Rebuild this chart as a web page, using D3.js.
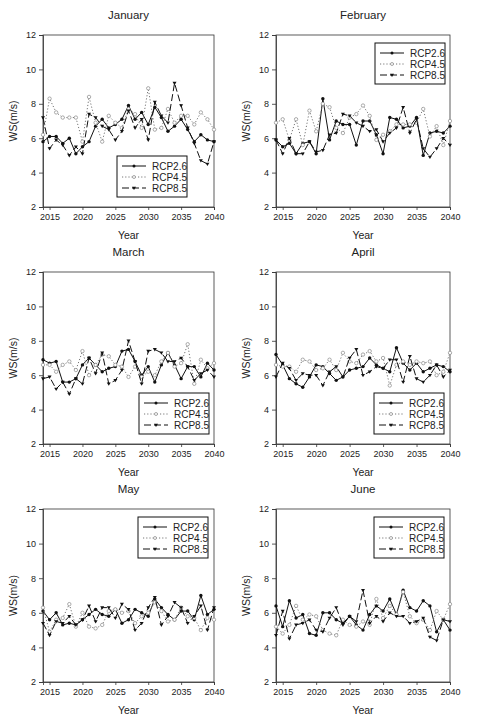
<!DOCTYPE html>
<html><head><meta charset="utf-8">
<script src="https://cdn.jsdelivr.net/npm/d3@7"></script>
<style>body{margin:0;background:#fff}svg{display:block}text{font-family:"Liberation Sans",Arial,sans-serif;fill:#222}</style>
</head><body>
<script>
const years = d3.range(2014, 2041);
const seriesNames = ["RCP2.6", "RCP4.5", "RCP8.5"];
const months = ["January", "February", "March", "April", "May", "June"];
const yTicks = [2, 4, 6, 8, 10, 12];
const xTicks = [2015, 2020, 2025, 2030, 2035, 2040];

const janRCP26 = [5.8,6.1,6.1,5.7,6.0,5.1,5.5,5.8,6.7,7.1,6.6,6.8,7.1,7.9,7.1,7.5,6.8,7.8,7.2,6.4,6.7,7.1,6.5,5.8,6.2,5.9,5.8];
const janRCP45 = [6.2,8.3,7.5,7.2,7.2,7.2,5.8,8.4,6.9,5.8,7.3,6.9,6.6,7.7,7.4,6.6,8.9,6.5,6.6,7.7,6.9,7.3,7.3,6.8,7.5,7.1,6.5];
const janRCP85 = [7.2,5.4,5.9,5.6,5.0,5.5,5.1,7.4,7.2,6.7,6.5,5.9,6.4,7.6,6.6,7.1,5.9,8.1,7.3,6.9,9.2,7.9,6.6,5.7,4.7,4.5,5.8];

const febRCP26 = [5.9,5.5,5.7,5.1,5.7,5.8,5.1,8.3,5.9,7.0,6.8,6.8,5.6,7.0,7.0,6.2,5.1,7.2,7.1,6.6,6.7,7.2,5.0,6.3,6.4,6.3,6.7];
const febRCP45 = [6.9,7.1,5.9,7.1,5.6,7.6,6.4,8.0,7.8,6.6,6.3,7.2,7.4,7.9,7.3,5.9,6.2,6.4,6.8,6.8,6.8,6.9,7.7,6.1,6.7,5.6,7.0];
const febRCP85 = [5.9,5.1,6.0,5.1,5.1,5.8,5.2,5.3,6.2,6.3,7.4,7.3,6.9,6.7,6.4,6.5,5.8,6.3,6.6,7.8,6.3,7.1,5.4,4.9,5.4,6.0,5.6];

const marRCP26 = [6.9,6.7,6.8,5.6,5.6,5.8,6.6,7.0,6.6,6.2,6.4,6.5,7.4,7.5,6.8,6.0,6.5,5.6,6.6,7.3,6.6,5.8,6.5,6.5,5.9,6.7,6.3];
const marRCP45 = [6.6,6.6,6.2,6.6,6.8,6.3,7.4,6.0,6.6,7.2,7.1,6.6,6.5,5.9,6.5,5.9,6.2,6.0,6.8,7.3,6.5,6.7,7.8,5.5,6.9,6.4,6.7];
const marRCP85 = [5.8,5.9,5.2,5.6,4.9,5.8,5.5,7.0,6.1,7.3,5.5,5.7,6.3,8.0,6.8,5.5,7.4,7.5,7.3,6.8,6.8,7.0,6.5,5.7,6.1,6.3,5.9];

const aprRCP26 = [7.2,6.6,5.8,5.5,5.3,5.9,6.6,6.5,6.1,5.7,5.9,6.3,6.4,6.5,7.0,6.6,6.4,6.2,7.6,6.7,6.3,6.7,6.2,6.4,6.6,6.5,6.2];
const aprRCP45 = [6.6,6.5,6.5,6.2,6.9,6.8,6.3,6.4,6.9,6.3,7.3,6.8,6.7,7.2,7.4,6.8,7.0,5.4,6.6,6.8,6.6,6.8,6.7,6.8,6.0,6.2,7.3];
const aprRCP85 = [5.9,6.7,6.4,5.7,6.1,6.0,6.0,5.4,6.2,6.5,5.9,7.0,7.5,6.0,6.2,6.5,6.4,6.9,6.9,5.6,7.1,5.8,5.6,6.0,6.6,5.9,6.3];

const mayRCP26 = [6.1,5.6,6.0,5.3,5.4,5.3,5.6,5.9,6.2,5.9,5.8,6.2,5.4,5.6,6.2,6.0,5.8,6.8,6.3,5.9,5.6,6.1,6.1,5.6,7.0,5.9,6.2];
const mayRCP45 = [6.3,4.9,5.6,5.7,6.5,5.2,6.0,5.2,5.1,5.3,6.1,6.2,6.0,6.1,5.4,5.8,6.0,6.6,6.1,5.5,5.6,6.3,5.8,5.7,5.0,5.7,5.6];
const mayRCP85 = [5.4,4.7,5.5,5.4,5.8,5.3,5.6,6.4,5.5,6.3,6.3,5.7,6.5,6.2,5.0,5.4,6.3,6.9,5.3,5.8,6.6,6.3,5.4,5.8,6.4,5.0,6.3];

const junRCP26 = [6.4,5.2,6.7,5.7,5.9,4.8,4.7,6.0,6.0,5.6,5.4,5.8,5.3,5.0,5.9,6.4,6.1,6.8,5.9,7.3,6.3,6.1,6.7,6.4,4.9,5.6,5.0];
const junRCP45 = [5.2,4.8,5.3,6.4,5.6,5.9,5.8,5.0,4.8,4.7,5.6,5.3,5.2,5.5,5.3,6.8,5.7,6.4,5.9,7.2,5.8,5.4,5.6,5.0,6.1,5.6,6.5];
const junRCP85 = [4.7,6.1,4.5,5.3,5.4,5.6,5.0,4.9,5.7,6.3,5.3,5.8,5.5,7.3,5.4,5.8,5.5,6.0,5.8,5.8,5.4,5.5,5.7,4.6,4.4,5.6,5.5];

const panelData = [
  [janRCP26, janRCP45, janRCP85],
  [febRCP26, febRCP45, febRCP85],
  [marRCP26, marRCP45, marRCP85],
  [aprRCP26, aprRCP45, aprRCP85],
  [mayRCP26, mayRCP45, mayRCP85],
  [junRCP26, junRCP45, junRCP85]
];

// layout
const colX = [[43, 214], [276, 450]];
const rowY = [[35, 207], [272, 444], [509, 682]];
const legendPos = ["br", "tr", "br", "br", "tr", "tr"];
const legendRight = [27, 5, 5, 6, 6, 6];
const dashes = [null, "1.2,2", "7,3"];
const strokes = ["#111", "#777", "#111"];

const svg = d3.select("body").append("svg").attr("width", 482).attr("height", 727);

panelData.forEach((series, i) => {
  const c = i % 2, r = Math.floor(i / 2);
  const [x0, x1] = colX[c], [y0, y1] = rowY[r];
  const x = d3.scaleLinear().domain([2014, 2040]).range([x0, x1]);
  const y = d3.scaleLinear().domain([2, 12]).range([y1, y0]);
  const g = svg.append("g");

  g.append("rect").attr("x", x0).attr("y", y0).attr("width", x1 - x0).attr("height", y1 - y0)
    .attr("fill", "none").attr("stroke", "#333").attr("stroke-width", 0.8);

  const ya = g.append("g").attr("transform", `translate(${x0},0)`)
    .call(d3.axisLeft(y).tickValues(yTicks).tickSize(4).tickPadding(3));
  const xa = g.append("g").attr("transform", `translate(0,${y1})`)
    .call(d3.axisBottom(x).tickValues(xTicks).tickSize(3).tickPadding(4).tickFormat(d3.format("d")));
  [ya, xa].forEach(a => {
    a.select(".domain").attr("stroke", "#333").attr("stroke-width", 0.8);
    a.selectAll(".tick line").attr("stroke", "#333").attr("stroke-width", 0.8);
    a.selectAll("text").attr("font-size", 9).attr("fill", "#222").attr("font-family", '"Liberation Sans",Arial,sans-serif');
  });

  const cx = (x0 + x1) / 2;
  g.append("text").attr("x", cx).attr("y", y0 - 16).attr("text-anchor", "middle").attr("font-size", 11.5).text(months[i]);
  g.append("text").attr("x", cx).attr("y", y1 + 32).attr("text-anchor", "middle").attr("font-size", 10.5).text("Year");
  g.append("text").attr("transform", `translate(${x0 - 26},${(y0 + y1) / 2}) rotate(-90)`)
    .attr("text-anchor", "middle").attr("font-size", 10.5).text("WS(m/s)");

  const line = d3.line().x((d, k) => x(years[k])).y(d => y(d));
  series.forEach((vals, s) => {
    g.append("path").datum(vals).attr("d", line).attr("fill", "none")
      .attr("stroke", strokes[s]).attr("stroke-width", 1).attr("stroke-dasharray", dashes[s]);
    const pts = g.append("g").selectAll("*").data(vals).enter();
    if (s === 0) {
      pts.append("circle").attr("cx", (d, k) => x(years[k])).attr("cy", d => y(d)).attr("r", 1.7).attr("fill", "#111");
    } else if (s === 1) {
      pts.append("circle").attr("cx", (d, k) => x(years[k])).attr("cy", d => y(d)).attr("r", 1.7)
        .attr("fill", "#fff").attr("stroke", "#888").attr("stroke-width", 0.7);
    } else {
      pts.append("path").attr("transform", (d, k) => `translate(${x(years[k])},${y(d)})`)
        .attr("d", "M-2,-1.3L2,-1.3L0,2Z").attr("fill", "#111");
    }
  });

  const lw = 70, lh = 41;
  const lx = x1 - legendRight[i] - lw;
  const ly = legendPos[i] === "tr" ? y0 + 8 : y1 - 10 - lh;
  const lg = g.append("g").attr("transform", `translate(${lx},${ly})`);
  lg.append("rect").attr("width", lw).attr("height", lh).attr("fill", "#fff").attr("stroke", "#111").attr("stroke-width", 1);
  seriesNames.forEach((nm, s) => {
    const yy = 10 + s * 11;
    lg.append("line").attr("x1", 5).attr("x2", 29).attr("y1", yy).attr("y2", yy)
      .attr("stroke", strokes[s]).attr("stroke-width", 1).attr("stroke-dasharray", dashes[s]);
    if (s === 0) lg.append("circle").attr("cx", 17).attr("cy", yy).attr("r", 1.5).attr("fill", "#111");
    else if (s === 1) lg.append("circle").attr("cx", 17).attr("cy", yy).attr("r", 1.5).attr("fill", "#fff").attr("stroke", "#888").attr("stroke-width", 0.7);
    else lg.append("path").attr("transform", `translate(17,${yy})`).attr("d", "M-2,-1.3L2,-1.3L0,2Z").attr("fill", "#111");
    lg.append("text").attr("x", 35).attr("y", yy + 3.5).attr("font-size", 10).text(nm);
  });
});
</script>
</body></html>
